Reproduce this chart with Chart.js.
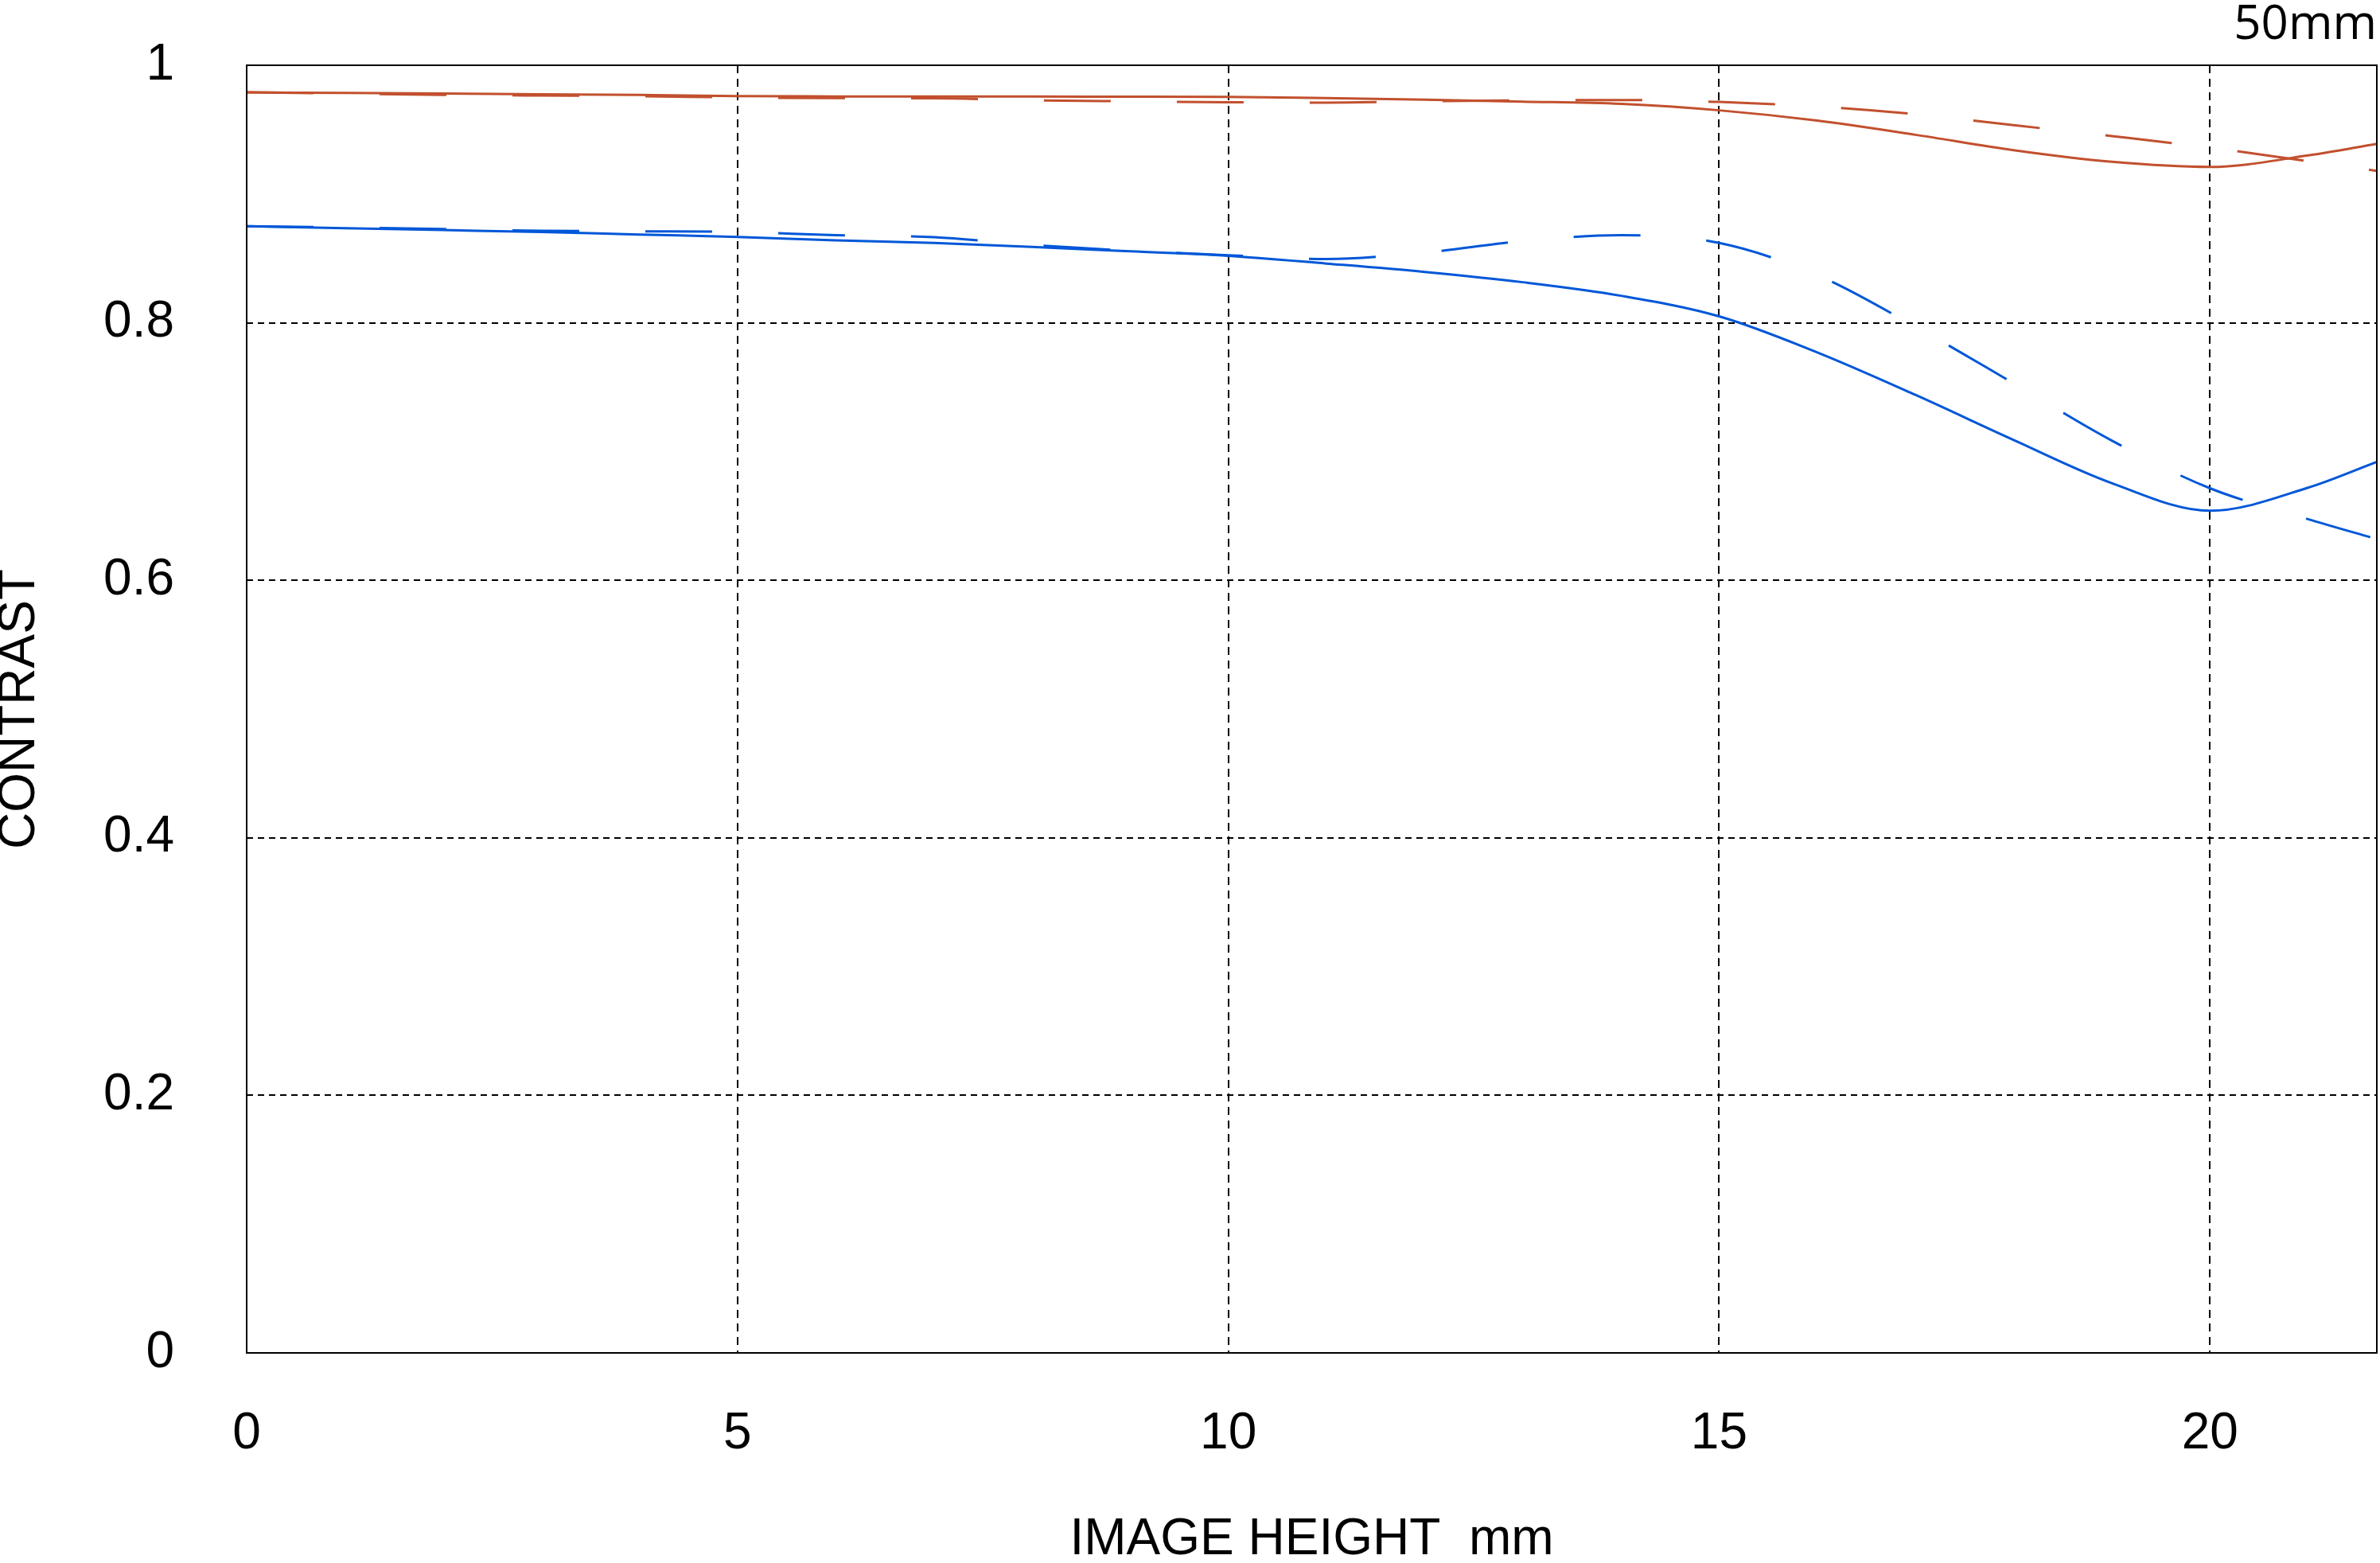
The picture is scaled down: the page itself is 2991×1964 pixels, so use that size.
<!DOCTYPE html>
<html>
<head>
<meta charset="utf-8">
<script src="https://cdn.jsdelivr.net/npm/chart.js@4.4.1/dist/chart.umd.min.js"></script>
<style>
  html, body { margin: 0; padding: 0; background: #ffffff; }
  #wrap { width: 2991px; height: 1964px; position: relative; }
</style>
</head>
<body>
<div id="wrap"><canvas id="c" width="2991" height="1964"></canvas></div>
<script>
// ---- data ----
const imageHeight = [0, 1, 2, 3, 4, 5, 6, 7, 8, 9, 10, 11, 12, 13, 14, 15, 16, 17, 18, 19, 20, 21, 21.7];
const redSolid   = [0.979, 0.9785, 0.978, 0.9775, 0.977, 0.976, 0.9758, 0.9757, 0.9757, 0.9756, 0.9755, 0.9745, 0.9733, 0.9718, 0.970, 0.965, 0.957, 0.946, 0.934, 0.925, 0.921, 0.930, 0.939];
const redDashed  = [0.979, 0.978, 0.977, 0.9765, 0.976, 0.975, 0.9745, 0.9743, 0.9728, 0.972, 0.9713, 0.971, 0.972, 0.9728, 0.973, 0.9715, 0.968, 0.962, 0.9535, 0.945, 0.936, 0.9255, 0.918];
const blueSolid  = [0.875, 0.8735, 0.872, 0.8705, 0.8685, 0.8667, 0.864, 0.862, 0.859, 0.8555, 0.852, 0.846, 0.8395, 0.8315, 0.821, 0.805, 0.777, 0.744, 0.709, 0.6755, 0.654, 0.672, 0.692];
const blueDashed = [0.875, 0.874, 0.8728, 0.8715, 0.871, 0.8705, 0.868, 0.8665, 0.8605, 0.856, 0.8525, 0.8495, 0.8545, 0.8635, 0.868, 0.862, 0.837, 0.797, 0.753, 0.7085, 0.6715, 0.6475, 0.632];
const xTickValues = [0, 5, 10, 15, 20];
const xTickLabels = ['0', '5', '10', '15', '20'];
const yTickValues = [0, 0.2, 0.4, 0.6, 0.8, 1];
const yTickLabels = ['0', '0.2', '0.4', '0.6', '0.8', '1'];
const xTitle = 'IMAGE HEIGHT  mm';
const yTitle = 'CONTRAST';
const chartTitle = '50mm';

const RED = '#C2502E';
const BLUE = '#0057D8';
const FONT = "'Liberation Sans', Arial, sans-serif";

function pts(series) { return imageHeight.map((x, i) => ({ x: x, y: series[i] })); }

function mk(label, series, color, dashed) {
  return {
    label: label,
    data: pts(series),
    showLine: true,
    borderColor: color,
    backgroundColor: color,
    borderWidth: 3,
    borderDash: dashed ? [84, 83] : [],
    pointRadius: 0,
    pointHoverRadius: 0,
    fill: false,
    cubicInterpolationMode: 'monotone'
  };
}

const framePlugin = {
  id: 'frame',
  afterDraw(chart) {
    const a = chart.chartArea;
    const ctx = chart.ctx;
    ctx.save();
    ctx.strokeStyle = '#000';
    ctx.lineWidth = 2;
    ctx.setLineDash([]);
    ctx.strokeRect(a.left, a.top, a.right - a.left, a.bottom - a.top);
    ctx.restore();
  }
};

new Chart(document.getElementById('c'), {
  type: 'scatter',
  data: {
    datasets: [
      mk('red solid', redSolid, RED, false),
      mk('red dashed', redDashed, RED, true),
      mk('blue solid', blueSolid, BLUE, false),
      mk('blue dashed', blueDashed, BLUE, true)
    ]
  },
  options: {
    responsive: false,
    animation: false,
    devicePixelRatio: 1,
    layout: { padding: { left: 0, right: 4, top: 0, bottom: 0 } },
    plugins: {
      legend: { display: false },
      tooltip: { enabled: false },
      title: {
        display: true,
        text: chartTitle,
        align: 'end',
        color: '#000',
        font: { family: "'Open Sans', sans-serif", size: 60, weight: 'normal', lineHeight: 1.05 },
        padding: { top: 0, bottom: 19 }
      }
    },
    scales: {
      x: {
        type: 'linear',
        position: 'bottom',
        min: 0,
        max: 21.7,
        afterBuildTicks: (s) => { s.ticks = xTickValues.map(v => ({ value: v })); },
        afterFit: (s) => { s.height = 264; s.paddingLeft = 0; s.paddingRight = 0; },
        ticks: {
          autoSkip: false,
          maxRotation: 0,
          padding: 64,
          color: '#000',
          font: { family: FONT, size: 64 },
          callback: (v) => xTickLabels[xTickValues.indexOf(v)]
        },
        grid: { color: '#000', lineWidth: 2, drawTicks: false, tickLength: 0 },
        border: { display: false, dash: [10, 7] },
        title: {
          display: true,
          text: xTitle,
          color: '#000',
          font: { family: FONT, size: 64, lineHeight: 0.9 },
          padding: { top: 0, bottom: 0 }
        }
      },
      y: {
        type: 'linear',
        position: 'left',
        min: 0,
        max: 1,
        afterBuildTicks: (s) => { s.ticks = yTickValues.map(v => ({ value: v })); },
        afterFit: (s) => { s.width = 310; s.paddingTop = 0; s.paddingBottom = 0; },
        ticks: {
          autoSkip: false,
          padding: 91,
          color: '#000',
          font: { family: FONT, size: 64 },
          callback: (v) => yTickLabels[yTickValues.indexOf(v)]
        },
        grid: { color: '#000', lineWidth: 2, drawTicks: false, tickLength: 0 },
        border: { display: false, dash: [8, 6] },
        title: {
          display: true,
          text: yTitle,
          color: '#000',
          font: { family: FONT, size: 64, lineHeight: 0.8 },
          padding: { top: 0, bottom: 0 }
        }
      }
    }
  },
  plugins: [framePlugin]
});
</script>
</body>
</html>
